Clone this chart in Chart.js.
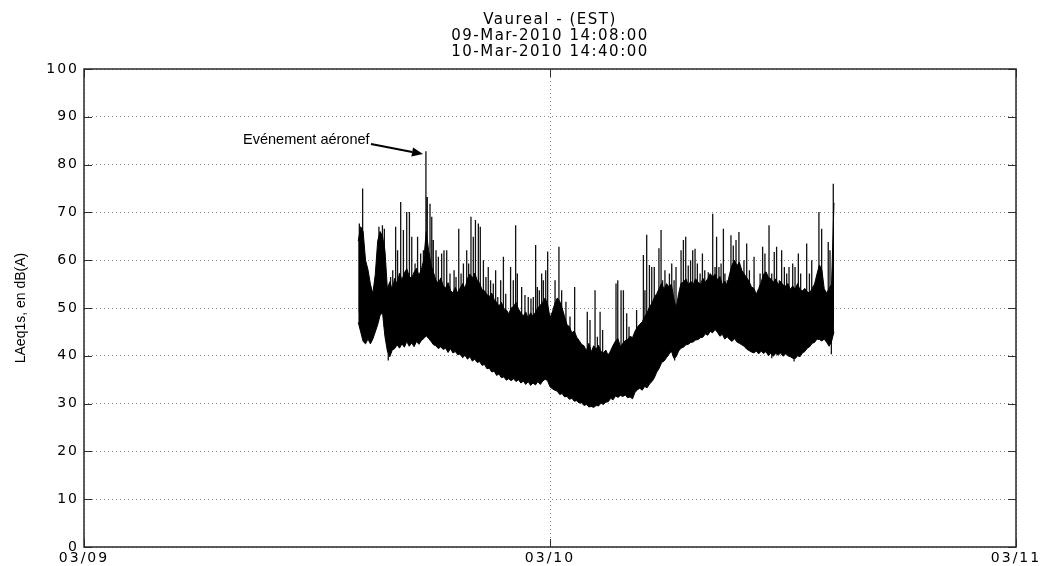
<!DOCTYPE html>
<html>
<head>
<meta charset="utf-8">
<script src="https://cdn.jsdelivr.net/npm/chart.js@4.4.1/dist/chart.umd.min.js"></script>
<style>
html,body{margin:0;padding:0;background:#fff;}
canvas{display:block;}
</style>
</head>
<body>
<canvas id="c" width="1041" height="566"></canvas>
<script>
// ---------- text ----------
const titleLines = ['Vaureal - (EST)', '09-Mar-2010 14:08:00', '10-Mar-2010 14:40:00'];
const yAxisTitle = 'LAeq1s, en dB(A)';
const xTickLabels = ['03/09', '03/10', '03/11'];
const xTickHours = [0, 24, 48];           // hours since 03/09 00:00
const annotationText = 'Evénement aéronef';

// ---------- data (hours since 03/09 00:00, dB(A)) ----------
const startHour = 14.125;
const binHours = 0.125;
// lower envelope of the 1-s LAeq trace, one value per 7.5-min bin
const lows = [
 47,45,43,42.5,43.5,42.5,43.5,45,46.5,48.5,49,44,
 41,39.8,41.2,41.5,42.3,41.6,42.5,41.8,43,42,42.7,41.9,43,42.4,43.2,43.6,
 44.2,43.6,43,42.3,42.1,41.5,41.9,41.3,41.6,40.7,41.5,40.6,40.9,40.2,40.4,39.6,40.1,39.3,39.8,38.9,39.3,38.6,38.8,38,38.2,37.3,37.4,36.6,36.8,35.9,36.2,35.4,35.6,34.9,35.2,34.8,
 35.2,34.6,35,34.3,34.7,34,34.6,33.8,34.3,33.9,34.6,34,34.7,35.1,34.8,33.5,33.1,32.8,32.6,31.9,32.1,31.4,31.5,30.9,31.1,30.5,30.6,30.1,30.2,29.6,29.8,29.3,29.4,29.2,29.6,29.5,30.1,29.8,30.3,30.4,31.1,30.8,31.6,31.3,31.7,31.5,31.8,31.2,31.4,31,32.3,32.9,33.2,32.8,33.6,33.3,34.1,34.6,35.4,36.6,37.4,38.6,38.9,39.6,40.3,41,
 39.5,39.8,41,41.6,41.8,42.3,42.4,42.8,42.9,43.3,43.4,43.8,43.9,44.6,44.3,45.1,44.8,45.5,44.9,44.1,44.5,43.5,44,43.4,43,43.6,42.9,42.6,42.3,42,41.4,41.1,40.8,40.6,41,40.4,41,40.5,40.9,40,40.6,39.9,40.5,40.1,40.6,39.9,40.4,40,39.8,39.5,39.4,40,39.8,40.6,40.9,41.6,41.9,42.6,42.8,43.5,43.4,43.1,43.5,42.8,42,43,45
];
// upper edge of the dense part of the trace, same bins
const highs = [
 64,67,66,60,58,55,53,57,64,66,65,62,
 54,55.5,53.8,56.2,55,57.3,55.8,57.4,58.2,56.6,56.2,57.5,58.3,56.8,58.1,60,
 66,62,59,57.4,55.8,55.2,56.3,54.6,54.2,55.3,53.6,53.2,54.3,53.1,54.2,55.1,54.1,56.2,57.1,56.2,57.3,55.8,55.2,53.8,53.6,52.8,52.4,53.1,51.8,51.2,50.4,51.2,49.8,49.6,48.8,50,
 50.3,51.2,49.8,49,48.3,49.2,47.8,49,48.3,49.1,50,50.6,51.2,52.1,50.8,48,49.2,51,52.1,51.4,50,48.2,46.5,46.1,44.8,45.2,43.9,43.2,42.4,42.1,41,42.6,40.8,42.1,41.4,42.2,40.9,40.6,41.2,40,41.1,42.2,43.1,43.6,41.9,42.6,43.2,43.4,44.1,43.8,45.1,46,46.6,47.1,48.2,49,50.2,51,52.2,53,54.1,55.2,53.9,55.1,54.4,55,
 52,50,53,55.2,55.4,56.1,54.8,55.6,54.9,56.1,55.4,54.9,56.2,55.4,56.1,57.2,56.4,57.1,55.9,56.6,54.9,55.6,54.8,57.1,59,60,58.8,59.6,57.9,57.1,56.4,55.6,54.4,54.1,52.9,54.1,55.4,57.1,57.6,56.4,56.1,55.4,56.1,54.9,55.6,54.8,54.6,55.1,53.9,54.6,53.9,55.1,53.8,53.6,54.1,53.4,53.1,54.1,55,57.1,59,58,54,53.1,54.1,55,72
];
// individual peaks above the dense part
const spikeHours = [14.18,14.35,15.19,15.37,15.47,15.79,15.90,16.05,16.15,16.31,16.45,16.62,16.76,16.88,17.05,17.18,17.34,17.48,17.61,17.68,17.82,17.91,17.99,18.13,18.25,18.42,18.54,18.68,18.85,19.06,19.16,19.30,19.42,19.54,19.71,19.81,19.93,20.05,20.16,20.31,20.41,20.57,20.70,20.82,20.94,21.08,21.20,21.31,21.46,21.60,21.72,21.97,22.11,22.23,22.32,22.54,22.71,22.88,23.02,23.14,23.26,23.35,23.45,23.57,23.66,23.78,23.88,24.26,24.46,24.60,24.82,25.03,25.15,25.27,25.46,25.60,25.72,25.92,26.06,26.32,26.44,26.58,26.71,26.83,27.00,27.40,27.49,27.66,27.78,27.95,28.07,28.29,28.46,28.60,28.81,28.89,28.98,29.12,29.24,29.37,29.61,29.72,29.80,29.92,30.15,30.27,30.39,30.49,30.75,30.87,30.99,31.12,31.24,31.35,31.47,31.59,31.73,31.85,31.97,32.15,32.38,32.50,32.58,32.70,32.81,32.93,33.01,33.13,33.32,33.44,33.58,33.73,33.87,33.99,34.13,34.27,34.51,34.82,34.95,35.07,35.28,35.42,35.55,35.67,35.81,35.93,36.07,36.19,36.31,36.50,36.62,36.79,36.91,37.22,37.36,37.48,37.85,37.99,38.16,38.33,38.42,38.59];
const spikeLevels = [67.7,75.0,67.0,67.3,66.6,56.5,57.9,67.0,62.1,72.2,66.3,70.1,70.1,64.9,59.3,64.9,61.4,62.1,82.8,73.2,71.8,69.1,64.2,62.1,60.7,61.4,62.1,62.1,57.2,57.9,56.5,66.6,57.2,59.3,62.1,59.3,69.1,64.9,68.4,67.7,67.0,60.0,56.5,58.6,55.8,55.1,57.9,52.3,55.8,60.7,53.0,58.6,55.8,67.3,57.2,54.4,52.7,52.3,52.0,52.3,63.2,54.4,53.7,57.2,55.8,57.9,61.8,55.8,62.8,53.7,51.3,48.2,44.0,54.4,42.6,41.9,40.5,49.2,47.5,53.7,44.0,49.2,45.4,40.5,40.5,55.1,55.8,53.7,53.7,48.9,46.1,41.9,49.6,46.1,61.1,53.7,65.3,59.0,58.6,58.6,62.5,66.3,55.8,57.9,57.2,59.3,55.8,58.6,62.1,64.2,64.9,58.9,60.0,62.1,62.4,59.3,57.2,61.4,57.9,57.5,69.7,58.6,64.9,58.6,59.3,66.6,57.2,55.8,65.2,63.1,64.2,65.9,55.8,60.0,63.5,57.9,60.7,57.2,62.8,61.4,67.3,57.2,61.7,62.8,55.8,62.1,58.6,57.2,58.6,59.3,58.6,61.4,57.2,63.5,57.2,60.0,70.1,66.6,53.0,63.8,62.1,76.0];
// individual dips below the dense part
const dipHours = [15.67, 26.15, 30.42, 35.42, 36.57, 38.49];
const dipLevels = [39.0, 29.3, 39.0, 39.5, 38.8, 40.3];

// ---------- build series ----------
const binHour = i => startHour + i * binHours;
const binIndex = h => Math.max(0, Math.min(lows.length - 1, Math.round((h - startHour) / binHours)));
const lowPts = lows.map((v, i) => ({x: binHour(i), y: v}));
const highPts = highs.map((v, i) => ({x: binHour(i), y: v}));
const spikeGroups = [];
spikeHours.forEach((h, i) => {
  const b = binIndex(h);
  spikeGroups.push([{x: h, y: lows[b] + 2}, {x: h, y: spikeLevels[i]}, {x: h, y: null}]);
});
dipHours.forEach((h, i) => {
  const b = binIndex(h);
  spikeGroups.push([{x: h, y: highs[b] - 2}, {x: h, y: dipLevels[i]}, {x: h, y: null}]);
});
spikeGroups.sort((a, b) => a[0].x - b[0].x);
const spikePts = spikeGroups.flat();

const FAMILY = "'Liberation Sans', Arial, Helvetica, sans-serif";
const WIDE = "'DejaVu Sans', 'Liberation Sans', Arial, sans-serif";

const decorPlugin = {
  id: 'decor',
  beforeDraw(chart) {
    const tb = chart.titleBlock;
    if (tb && !tb.__spaced) {
      const orig = tb.draw.bind(tb);
      tb.draw = function (area) {
        const c = chart.ctx;
        c.save();
        c.letterSpacing = '1.5px';
        orig(area);
        c.restore();
      };
      tb.__spaced = true;
    }
  },
  afterDatasetsDraw(chart) {
    chart.ctx.letterSpacing = '2px';
  },
  afterDraw(chart) {
    const {ctx, chartArea: a, scales: {x, y}} = chart;
    ctx.letterSpacing = '0px';
    ctx.save();
    // inward tick marks on all four sides
    ctx.strokeStyle = '#303030';
    ctx.lineWidth = 1;
    ctx.beginPath();
    y.ticks.forEach(t => {
      const py = Math.round(y.getPixelForValue(t.value)) + 0.5;
      ctx.moveTo(a.left, py); ctx.lineTo(a.left + 8, py);
      ctx.moveTo(a.right, py); ctx.lineTo(a.right - 8, py);
    });
    x.ticks.forEach(t => {
      const px = Math.round(x.getPixelForValue(t.value)) + 0.5;
      ctx.moveTo(px, a.bottom); ctx.lineTo(px, a.bottom - 8);
      ctx.moveTo(px, a.top); ctx.lineTo(px, a.top + 8);
    });
    ctx.stroke();
    // axes box
    ctx.lineWidth = 1.5;
    ctx.strokeStyle = '#2a2a2a';
    ctx.strokeRect(a.left, a.top, a.right - a.left, a.bottom - a.top);
    // annotation
    const tx = x.getPixelForValue(8.19), ty = y.getPixelForValue(84.3);
    ctx.fillStyle = '#000';
    ctx.font = '14.5px ' + FAMILY;
    ctx.textAlign = 'left';
    ctx.textBaseline = 'alphabetic';
    ctx.fillText(annotationText, tx, ty);
    const x0 = x.getPixelForValue(14.78), y0 = y.getPixelForValue(84.3);
    const x1 = x.getPixelForValue(17.46), y1 = y.getPixelForValue(82.2);
    const ang = Math.atan2(y1 - y0, x1 - x0);
    const L = 11, W = 4.5;
    const bx = x1 - L * Math.cos(ang), by = y1 - L * Math.sin(ang);
    ctx.strokeStyle = '#000';
    ctx.lineWidth = 2;
    ctx.beginPath(); ctx.moveTo(x0, y0); ctx.lineTo(bx, by); ctx.stroke();
    ctx.beginPath();
    ctx.moveTo(x1, y1);
    ctx.lineTo(bx + W * Math.sin(ang), by - W * Math.cos(ang));
    ctx.lineTo(bx - W * Math.sin(ang), by + W * Math.cos(ang));
    ctx.closePath();
    ctx.fill();
    ctx.restore();
  }
};

new Chart(document.getElementById('c'), {
  type: 'line',
  data: {
    datasets: [
      {label: 'LAeq1s min', data: lowPts, borderColor: '#000', borderWidth: 1, pointRadius: 0, fill: false, tension: 0},
      {label: 'LAeq1s max', data: highPts, borderColor: '#000', borderWidth: 1, pointRadius: 0, fill: '-1', backgroundColor: '#000', tension: 0},
      {label: 'pics', data: spikePts, borderColor: '#111', borderWidth: 1.3, pointRadius: 0, fill: false, spanGaps: false, tension: 0}
    ]
  },
  options: {
    responsive: false,
    devicePixelRatio: 1,
    animation: false,
    layout: {padding: 0},
    plugins: {
      legend: {display: false},
      tooltip: {enabled: false},
      title: {
        display: true,
        text: titleLines,
        fullSize: false,
        color: '#000',
        font: {family: WIDE, size: 15, weight: 'normal', lineHeight: '16px'},
        padding: {top: 12, bottom: 9}
      }
    },
    scales: {
      x: {
        type: 'linear',
        min: 0, max: 48,
        afterBuildTicks: s => { s.ticks = xTickHours.map(v => ({value: v})); },
        afterFit: s => { s.height = 19; s.paddingLeft = 0; s.paddingRight = 25; },
        ticks: {
          callback: (v, i) => xTickLabels[i],
          color: '#000', font: {family: WIDE, size: 14}, padding: 3, z: 1,
          maxRotation: 0, autoSkip: false
        },
        grid: {color: '#8a8a8a', drawTicks: false, lineWidth: 1},
        border: {display: false, dash: [1, 3]}
      },
      y: {
        type: 'linear',
        min: 0, max: 100,
        afterFit: s => { s.width = 84; },
        ticks: {stepSize: 10, color: '#000', font: {family: WIDE, size: 14}, padding: 5, z: 1},
        grid: {color: '#8a8a8a', drawTicks: false, lineWidth: 1},
        border: {display: false, dash: [1, 3]},
        title: {display: true, text: yAxisTitle, color: '#000', font: {family: FAMILY, size: 14}, padding: {top: 13, bottom: 0}}
      }
    }
  },
  plugins: [decorPlugin]
});
</script>
</body>
</html>
